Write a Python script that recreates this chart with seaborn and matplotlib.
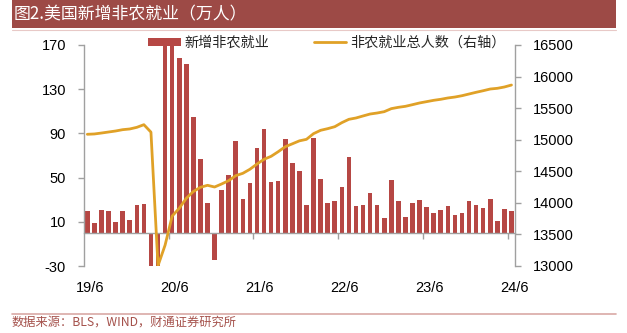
import matplotlib
matplotlib.use("Agg")
import matplotlib.pyplot as plt
import pandas as pd
import seaborn as sns
from matplotlib.patches import Rectangle, Patch
from matplotlib.lines import Line2D

# ---------------- data ----------------
months = pd.period_range("2019-06", "2024-06", freq="M").strftime("%Y-%m").tolist()

new_jobs = [20, 9, 21, 20, 9.5, 20, 12, 25, 26, -137, -2049, 272,
            478, 158, 153, 104.5, 67, 26.6, -25, 39, 52, 83, 31, 45,
            77, 94, 46, 47, 85, 63, 56, 25, 86, 49, 27, 28.5,
            41.5, 68.5, 24, 25, 36, 25.5, 13, 47.5, 28.5, 14.2, 27.4, 29.8,
            23.5, 18.1, 20.5, 24.3, 15.9, 17.7, 28.6, 25, 22.9, 30.4, 10.5, 21.4,
            20.2]

total_jobs = [15086, 15091, 15106, 15122, 15138, 15159, 15170, 15196, 15238, 15120, 13005, 13330,
              13790, 13914, 14072, 14180, 14246, 14278, 14251, 14299, 14352, 14431, 14468, 14532,
              14615, 14690, 14737, 14810, 14889, 14935, 14982, 15006, 15096, 15149, 15175, 15206,
              15270, 15323, 15344, 15376, 15407, 15423, 15444, 15492, 15513, 15529, 15555, 15582,
              15603, 15624, 15640, 15661, 15676, 15697, 15724, 15751, 15776, 15803, 15814, 15835,
              15866]

tick_labels = ["19/6", "20/6", "21/6", "22/6", "23/6", "24/6"]
left_ticks = [-30, 10, 50, 90, 130, 170]
right_ticks = [13000, 13500, 14000, 14500, 15000, 15500, 16000, 16500]

title = "图2.美国新增非农就业（万人）"
bar_label = "新增非农就业"
line_label = "非农就业总人数（右轴）"
source = "数据来源：BLS，WIND，财通证券研究所"

# ---------------- style ----------------
BAR = "#B64744"
LINE = "#E0A127"
GREY = "#A0A0A0"
TITLE_BG = "#9D4A46"

sns.set_theme(style="white")
plt.rcParams["font.family"] = ["Liberation Sans", "Noto Sans CJK SC", "DejaVu Sans"]
CJK = ["Noto Sans CJK SC", "DejaVu Sans"]

df = pd.DataFrame({"pos": range(len(months)), "month": months,
                   "new": new_jobs, "total": total_jobs})

W, H = 627, 333
fig = plt.figure(figsize=(W / 100, H / 100), dpi=100)
ax = fig.add_axes([84 / W, (H - 266) / H, 431 / W, 221 / H])

sns.barplot(data=df, x="pos", y="new", ax=ax, color=BAR, saturation=1,
            width=0.65, edgecolor="none")
ax.set_xlim(-0.47, len(months) - 0.5)
ax.set_ylim(-30, 170)

ax2 = ax.twinx()
sns.lineplot(data=df, x="pos", y="total", ax=ax2, color=LINE, linewidth=2.0)
ax2.set_ylim(13000, 16500)
ax2.set_xlim(-0.47, len(months) - 0.5)

# spines
for a in (ax, ax2):
    a.spines["top"].set_visible(False)
    a.set_xlabel("")
    a.set_ylabel("")
ax.spines["right"].set_visible(False)
ax2.spines["left"].set_visible(False)
ax2.spines["bottom"].set_visible(False)
ax.spines["left"].set_color(GREY)
ax2.spines["right"].set_color(GREY)
ax.spines["bottom"].set_color(GREY)
ax.spines["bottom"].set_position(("data", 0))
for a in (ax, ax2):
    for s in a.spines.values():
        s.set_linewidth(1.0)

# y ticks
ax.set_yticks(left_ticks)
ax.set_yticklabels([str(v) for v in left_ticks])
ax.tick_params(axis="y", left=True, direction="out", length=4, width=1,
               color=GREY, labelsize=10.5, pad=9, labelcolor="black")
ax2.set_yticks(right_ticks)
ax2.set_yticklabels([str(v) for v in right_ticks])
ax2.tick_params(axis="y", right=True, direction="out", length=4, width=1,
                color=GREY, labelsize=10.5, pad=9, labelcolor="black")

# x ticks: labels at June categories, minor marks at year boundaries
label_pos = [i for i, m in enumerate(months) if m.endswith("-06")]
ax.set_xticks([p + 0.4 for p in label_pos])
ax.set_xticklabels(tick_labels)
ax.set_xticks([p - 0.5 for p in label_pos[1:]], minor=True)
ax.tick_params(axis="x", which="major", bottom=True, length=0, labelsize=10.5,
               pad=35, labelcolor="black")
ax.tick_params(axis="x", which="minor", bottom=True, direction="out", length=4,
               width=1, color=GREY)
ax.grid(False)
ax2.grid(False)

# legend
handles = [Patch(facecolor=BAR, edgecolor="none"),
           Line2D([], [], color=LINE, linewidth=2)]
ax2.legend(handles, [bar_label, line_label], ncol=2, loc="upper left",
           bbox_to_anchor=(148 / W, 1 - 36 / H), bbox_transform=fig.transFigure,
           frameon=False, borderpad=0, borderaxespad=0, handlelength=2.3,
           handleheight=0.52, handletextpad=0.3, columnspacing=3.1,
           prop={"family": CJK, "size": 10.2})

# title bar
fig.patches.append(Rectangle((12 / W, 1 - 28 / H), (616 - 12) / W, 28 / H,
                             transform=fig.transFigure, facecolor=TITLE_BG,
                             edgecolor="none"))
fig.add_artist(Line2D([12 / W, 616 / W], [1 - 29.5 / H] * 2,
                      transform=fig.transFigure, color="#E8C9C7", linewidth=0.8))
fig.text(14 / W, 1 - 14 / H, title, color="white", fontsize=12.2, va="center",
         ha="left", family=CJK)

# footer
fig.add_artist(Line2D([12 / W, 616 / W], [1 - 314 / H] * 2,
                      transform=fig.transFigure, color="#D9A9A6", linewidth=1.2))
fig.text(12 / W, 1 - 322 / H, source, color="#A5524C", fontsize=8.8, va="center",
         ha="left", family=CJK)

fig.savefig("out.png", dpi=100)
